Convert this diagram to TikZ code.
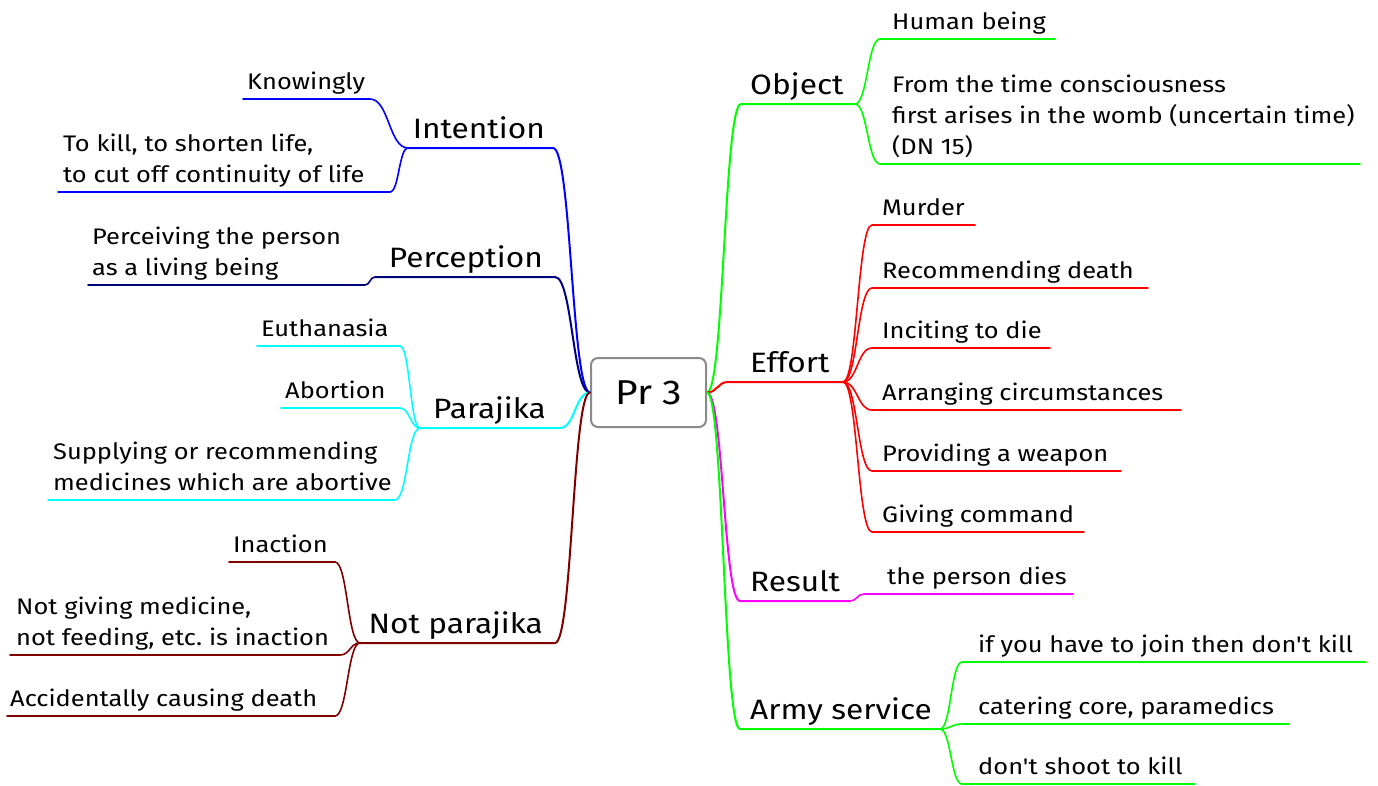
\documentclass[tikz,border=0pt]{standalone}
\usepackage{fontspec}
\setmainfont{Fira Sans}[Ligatures=TeXOff, FakeStretch=1.13]
\usetikzlibrary{calc}

\definecolor{cgreen}{HTML}{00FF00}
\definecolor{cred}{HTML}{FF0000}
\definecolor{cmag}{HTML}{FF00FF}
\definecolor{cblue}{HTML}{0000FF}
\definecolor{cnavy}{HTML}{00007F}
\definecolor{ccyan}{HTML}{00FFFF}
\definecolor{cmaroon}{HTML}{800000}
\definecolor{cframe}{HTML}{8A8A8A}

\tikzset{
  branch/.style={to path={
    .. controls ($(\tikztostart)!0.5!(\tikztostart-|\tikztotarget)$)
    and ($(\tikztotarget)!0.5!(\tikztotarget-|\tikztostart)$) .. (\tikztotarget)}},
  mainbr/.style={line width=2pt, line cap=round},
  subbr/.style={line width=1.6pt, line cap=round},
  leaf/.style={inner sep=0pt, text depth=0pt, align=left,
    font=\fontsize{22.5}{31}\selectfont\frenchspacing},
  topic/.style={inner sep=0pt, text depth=0pt, font=\fontsize{28}{34}\selectfont},
  rootbox/.style={draw=cframe, line width=2pt, rounded corners=7pt, fill=white,
    minimum width=115pt, minimum height=69pt, inner sep=0pt,
    font=\fontsize{34.5}{40}\selectfont}
}

\begin{document}
\begin{tikzpicture}[x=1pt,y=-1pt]
\useasboundingbox (0,0) rectangle (1378,785);

\node[rootbox] (root) at (648.5,392.5) {Pr 3};

% ---------------- right side ----------------
% Object
\coordinate (objS) at (741,104); \coordinate (objE) at (855,104);
\node[topic, anchor=south west] (obj) at (750,95) {Object};
\draw[mainbr, cgreen] (root.east) to[branch] (objS) -- (objE);
\coordinate (humS) at (880,39); \coordinate (humE) at (1055,39);
\node[leaf, anchor=south west] (hum) at (892,30) {Human being};
\draw[subbr, cgreen] (objE) to[branch] (humS) -- (humE);
\coordinate (fromS) at (880,164); \coordinate (fromE) at (1360,164);
\node[leaf, anchor=south west] (from) at (892,155)
  {From the time consciousness\\first arises in the womb (uncertain time)\\(DN 15)};
\draw[subbr, cgreen] (objE) to[branch] (fromS) -- (fromE);

% Effort
\coordinate (effS) at (728,382); \coordinate (effE) at (843,382);
\node[topic, anchor=south west] (eff) at (750,373) {Effort};
\draw[mainbr, cred] (root.east) to[branch] (effS) -- (effE);
\foreach \nm/\yy/\xe/\txt in {mur/225/975/Murder,
    rec/288/1148/Recommending death,
    inc/348/1050/Inciting to die,
    arr/410/1181/Arranging circumstances,
    pro/471/1121/Providing a weapon,
    giv/532/1084/Giving command}{
  \coordinate (\nm S) at (872,\yy); \coordinate (\nm E) at (\xe,\yy);
  \node[leaf, anchor=south west] (\nm) at (882,\yy-9) {\txt};
  \draw[subbr, cred] (effE) to[branch] (\nm S) -- (\nm E);
}

% Result
\coordinate (resS) at (740,601); \coordinate (resE) at (850,601);
\node[topic, anchor=south west] (res) at (750,592) {Result};
\draw[mainbr, cmag] (root.east) to[branch] (resS) -- (resE);
\coordinate (dieS) at (864,594); \coordinate (dieE) at (1073,594);
\node[leaf, anchor=south west] (die) at (887,585) {the person dies};
\draw[subbr, cmag] (resE) to[branch] (dieS) -- (dieE);

% Army service
\coordinate (armS) at (740,729); \coordinate (armE) at (940,729);
\node[topic, anchor=south west] (arm) at (750,720) {Army service};
\draw[mainbr, cgreen] (root.east) to[branch] (armS) -- (armE);
\foreach \nm/\yy/\xe/\txt in {joi/662/1366/if you have to join then don't kill,
    cat/724/1289/{catering core, paramedics},
    sho/784/1195/don't shoot to kill}{
  \coordinate (\nm S) at (962,\yy); \coordinate (\nm E) at (\xe,\yy);
  \node[leaf, anchor=south west] (\nm) at (978,\yy-9) {\txt};
  \draw[subbr, cgreen] (armE) to[branch] (\nm S) -- (\nm E);
}

% ---------------- left side ----------------
% Intention
\coordinate (intE) at (553,148); \coordinate (intS) at (408,148);
\node[topic, anchor=south east] (int) at (545,139) {Intention};
\draw[mainbr, cblue] (root.west) to[branch] (intE) -- (intS);
\coordinate (knE) at (370,99); \coordinate (knS) at (243,99);
\node[leaf, anchor=south west] (kn) at (247,90) {Knowingly};
\draw[subbr, cblue] (intS) to[branch] (knE) -- (knS);
\coordinate (tkE) at (390,192); \coordinate (tkS) at (58,192);
\node[leaf, anchor=south west] (tk) at (63,183)
  {To kill, to shorten life,\\to cut off continuity of life};
\draw[subbr, cblue] (intS) to[branch] (tkE) -- (tkS);

% Perception
\coordinate (perE) at (555,277); \coordinate (perS) at (375,277);
\node[topic, anchor=south east] (per) at (543,268) {Perception};
\draw[mainbr, cnavy] (root.west) to[branch] (perE) -- (perS);
\coordinate (pvE) at (365,285); \coordinate (pvS) at (88,285);
\node[leaf, anchor=south west] (pv) at (92,276)
  {Perceiving the person\\as a living being};
\draw[subbr, cnavy] (perS) to[branch] (pvE) -- (pvS);

% Parajika
\coordinate (parE) at (560,428); \coordinate (parS) at (420,428);
\node[topic, anchor=south east] (par) at (546,419) {Parajika};
\draw[mainbr, ccyan] (root.west) to[branch] (parE) -- (parS);
\coordinate (euE) at (400,346); \coordinate (euS) at (257,346);
\node[leaf, anchor=south west] (eu) at (261,337) {Euthanasia};
\draw[subbr, ccyan] (parS) to[branch] (euE) -- (euS);
\coordinate (abE) at (400,408); \coordinate (abS) at (281,408);
\node[leaf, anchor=south west] (ab) at (285,399) {Abortion};
\draw[subbr, ccyan] (parS) to[branch] (abE) -- (abS);
\coordinate (suE) at (395,500); \coordinate (suS) at (48,500);
\node[leaf, anchor=south west] (su) at (53,491)
  {Supplying or recommending\\medicines which are abortive};
\draw[subbr, ccyan] (parS) to[branch] (suE) -- (suS);

% Not parajika
\coordinate (npE) at (555,643); \coordinate (npS) at (360,643);
\node[topic, anchor=south east] (np) at (543,634) {Not parajika};
\draw[mainbr, cmaroon] (root.west) to[branch] (npE) -- (npS);
\coordinate (inE) at (335,562); \coordinate (inS) at (229,562);
\node[leaf, anchor=south west] (ina) at (233,553) {Inaction};
\draw[subbr, cmaroon] (npS) to[branch] (inE) -- (inS);
\coordinate (ngE) at (340,655); \coordinate (ngS) at (10,655);
\node[leaf, anchor=south west] (ng) at (16,646)
  {Not giving medicine,\\not feeding, etc. is inaction};
\draw[subbr, cmaroon] (npS) to[branch] (ngE) -- (ngS);
\coordinate (acE) at (335,716); \coordinate (acS) at (7,716);
\node[leaf, anchor=south west] (ac) at (10,707) {Accidentally causing death};
\draw[subbr, cmaroon] (npS) to[branch] (acE) -- (acS);
\end{tikzpicture}
\end{document}
